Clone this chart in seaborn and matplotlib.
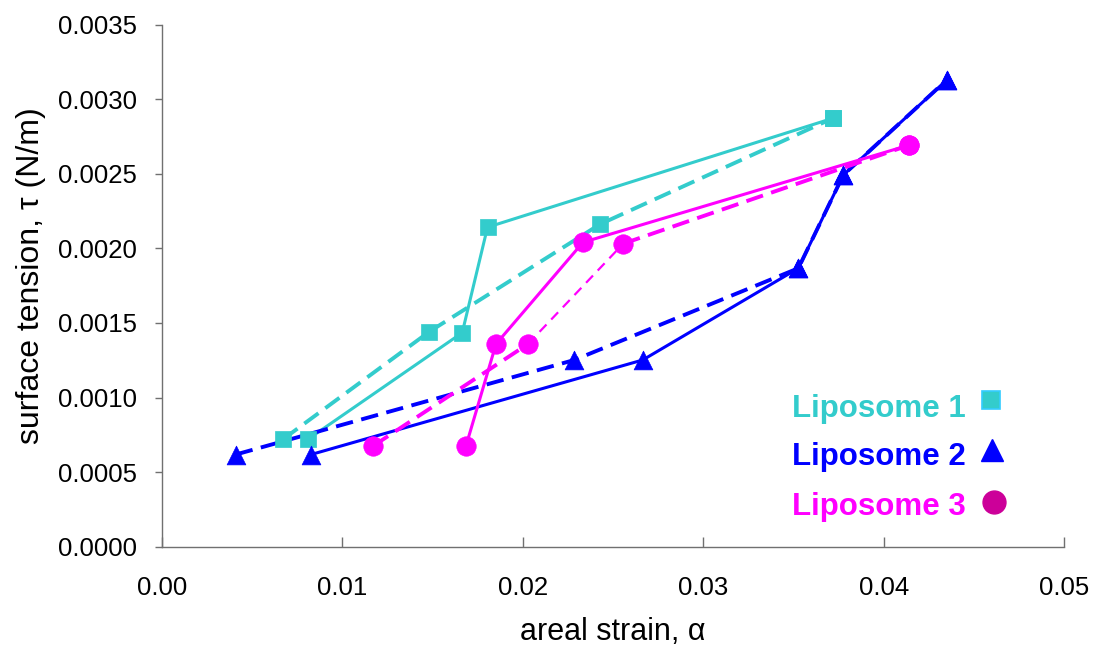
import matplotlib
matplotlib.use("Agg")
import matplotlib.pyplot as plt
from matplotlib.ticker import FormatStrFormatter, MultipleLocator
import seaborn as sns

# ---- data ----
lip1_solid_x = [0.00812, 0.01665, 0.01805, 0.03717]
lip1_solid_y = [0.000722, 0.001435, 0.002142, 0.002872]
lip1_dash_x = [0.00674, 0.01483, 0.02428, 0.03717]
lip1_dash_y = [0.000722, 0.001442, 0.002162, 0.002872]

lip2_solid_x = [0.00827, 0.02665, 0.03527, 0.03776, 0.04349]
lip2_solid_y = [0.000618, 0.001252, 0.001867, 0.002492, 0.003129]
lip2_dash_x = [0.00410, 0.02286, 0.03527, 0.03776, 0.04349]
lip2_dash_y = [0.000618, 0.001252, 0.001867, 0.002492, 0.003129]

lip3_solid_x = [0.01686, 0.01852, 0.02334, 0.04142]
lip3_solid_y = [0.000677, 0.001359, 0.002041, 0.002693]
lip3_dash_x = [0.01173, 0.02029, 0.02557, 0.04142]
lip3_dash_y = [0.000677, 0.001359, 0.002032, 0.002693]

legend_labels = ["Liposome 1", "Liposome 2", "Liposome 3"]
x_label = "areal strain, α"
y_label = "surface tension, τ (N/m)"

C1 = "#33CCCC"
C2 = "#0000FF"
C3 = "#FF00FF"

sns.set_theme(style="white")
plt.rcParams["font.family"] = ["Liberation Sans", "DejaVu Sans"]

fig = plt.figure(figsize=(10.94, 6.48), dpi=100)
ax = fig.add_axes([0.1478, 0.1563, 0.8250, 0.8056])

DASH = (0, (4.5, 2.2))
THIN_DASH = (0, (4.5, 3.1))
LW_S = 2.2
LW_D = 2.8


def line(x, y, color, lw, ls):
    sns.lineplot(x=x, y=y, sort=False, estimator=None, color=color,
                 linewidth=lw, linestyle=ls, ax=ax, zorder=2)


# Liposome 1
line(lip1_solid_x, lip1_solid_y, C1, LW_S, "-")
line(lip1_dash_x, lip1_dash_y, C1, LW_D, DASH)
# Liposome 2
line(lip2_solid_x, lip2_solid_y, C2, LW_S, "-")
line(lip2_dash_x, lip2_dash_y, C2, LW_D, DASH)
# Liposome 3
line(lip3_solid_x, lip3_solid_y, C3, LW_S, "-")
line(lip3_dash_x[0:2], lip3_dash_y[0:2], C3, LW_D, DASH)
line(lip3_dash_x[1:3], lip3_dash_y[1:3], C3, 1.6, THIN_DASH)
line(lip3_dash_x[2:4], lip3_dash_y[2:4], C3, LW_D, DASH)

# markers
sns.scatterplot(x=lip1_solid_x + lip1_dash_x, y=lip1_solid_y + lip1_dash_y,
                marker="s", s=12 ** 2, color=C1, edgecolor=C1, linewidth=0.5,
                ax=ax, zorder=4)
sns.scatterplot(x=lip2_solid_x + lip2_dash_x, y=lip2_solid_y + lip2_dash_y,
                marker="^", s=13.5 ** 2, color=C2, edgecolor=C2, linewidth=0.5,
                ax=ax, zorder=4)
sns.scatterplot(x=lip3_solid_x + lip3_dash_x, y=lip3_solid_y + lip3_dash_y,
                marker="o", s=14 ** 2, color=C3, edgecolor=C3, linewidth=0.5,
                ax=ax, zorder=4)

# axes
ax.set_xlim(0, 0.05)
ax.set_ylim(0, 0.0035)
ax.xaxis.set_major_locator(MultipleLocator(0.01))
ax.yaxis.set_major_locator(MultipleLocator(0.0005))
ax.xaxis.set_major_formatter(FormatStrFormatter("%.2f"))
ax.yaxis.set_major_formatter(FormatStrFormatter("%.4f"))
for side in ["top", "right"]:
    ax.spines[side].set_visible(False)
for side in ["left", "bottom"]:
    ax.spines[side].set_color("#707070")
    ax.spines[side].set_linewidth(1.0)
ax.tick_params(axis="y", direction="out", length=5, width=1, color="#707070",
               labelsize=18.5, pad=13, labelcolor="black", left=True)
ax.tick_params(axis="x", direction="in", length=7, width=1, color="#707070",
               labelsize=18.5, pad=21, labelcolor="black", bottom=True)
ax.set_xlabel(x_label, fontsize=22, labelpad=12, color="black")
ax.set_ylabel(y_label, fontsize=23, color="black")
ax.yaxis.set_label_coords(-0.128, 0.52)

# legend (custom, Excel-like)
legend_colors = [C1, C2, C3]
legend_y = [0.249, 0.1565, 0.0607]
for lab, col, yy in zip(legend_labels, legend_colors, legend_y):
    ax.text(0.698, yy, lab, transform=ax.transAxes, color=col, fontsize=22.5,
            fontweight="bold", ha="left", va="baseline")
ax.plot([0.9193], [0.2805], marker="s", markersize=13.5, color=C1,
        markeredgecolor="#33CCFF", markeredgewidth=1.2, transform=ax.transAxes,
        clip_on=False)
ax.plot([0.9204], [0.1852], marker="^", markersize=16, color=C2,
        markeredgecolor=C2, transform=ax.transAxes, clip_on=False)
ax.plot([0.9221], [0.0866], marker="o", markersize=16.5, color="#CC0099",
        markeredgecolor="#CC0099", transform=ax.transAxes, clip_on=False)

fig.savefig("out.png", dpi=100)
